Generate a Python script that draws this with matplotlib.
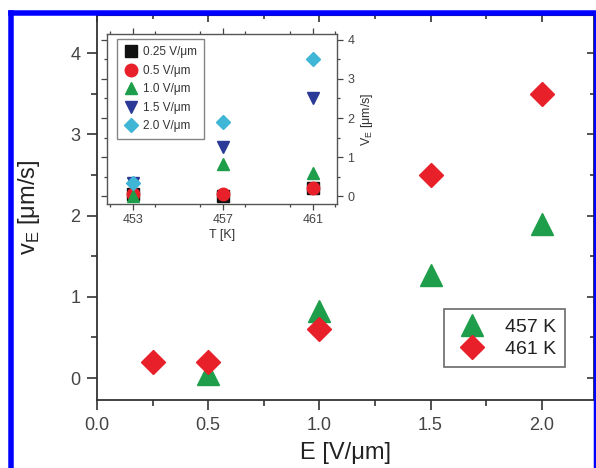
import matplotlib.pyplot as plt
from matplotlib.lines import Line2D
from matplotlib.ticker import MultipleLocator

plt.rcParams['font.family'] = ['Liberation Sans', 'DejaVu Sans']

# main plot: v_E vs E
E_457 = [0.5, 1.0, 1.5, 2.0]
v_457 = [0.05, 0.82, 1.27, 1.9]
E_461 = [0.25, 0.5, 1.0, 1.5, 2.0]
v_461 = [0.2, 0.2, 0.6, 2.5, 3.5]

# inset: v_E vs T for each field
T = [453, 457, 461]
fields = ['0.25 V/\u03bcm', '0.5 V/\u03bcm', '1.0 V/\u03bcm', '1.5 V/\u03bcm', '2.0 V/\u03bcm']
v_T = [
    [0.05, 0.0, 0.2],
    [0.05, 0.05, 0.2],
    [0.0, 0.82, 0.6],
    [0.35, 1.27, 2.5],
    [0.35, 1.9, 3.5],
]
markers = ['s', 'o', '^', 'v', 'D']
colors = ['#111111', '#e8202a', '#1e9e4a', '#2b3a96', '#3fb6d6']

green = '#1e9e4a'
red = '#e8202a'
txt = '#444444'

fig = plt.figure(figsize=(5.96, 4.68), dpi=100)
ax = fig.add_axes([0.1628, 0.1453, 0.8338, 0.8227])

ax.plot(E_457, v_457, '^', color=green, ms=16, mec=green, label='457 K', zorder=3)
ax.plot(E_461, v_461, 'D', color=red, ms=12, mec=red, label='461 K', zorder=3)

ax.set_xlim(0, 2.235)
ax.set_ylim(-0.27, 4.47)
ax.set_xticks([0, 0.5, 1.0, 1.5, 2.0])
ax.set_xticklabels(['0.0', '0.5', '1.0', '1.5', '2.0'])
ax.xaxis.set_minor_locator(MultipleLocator(0.25))
ax.yaxis.set_major_locator(MultipleLocator(1))
ax.yaxis.set_minor_locator(MultipleLocator(0.5))
ax.tick_params(which='both', direction='out', labelsize=13, labelcolor=txt,
               color='#333333', width=1.2, pad=5)
ax.tick_params(which='major', length=7)
ax.tick_params(which='minor', length=4)
# top and right ticks point inwards
sec_top = ax.secondary_xaxis('top')
sec_top.set_xticks([0, 0.5, 1.0, 1.5, 2.0])
sec_top.xaxis.set_minor_locator(MultipleLocator(0.25))
sec_top.tick_params(which='both', direction='in', labeltop=False, color='#333333', width=1.2)
sec_top.tick_params(which='major', length=5)
sec_top.tick_params(which='minor', length=3)
sec_right = ax.secondary_yaxis('right')
sec_right.yaxis.set_major_locator(MultipleLocator(1))
sec_right.yaxis.set_minor_locator(MultipleLocator(0.5))
sec_right.tick_params(which='both', direction='in', labelright=False, color='#333333', width=1.2)
sec_right.tick_params(which='major', length=5)
sec_right.tick_params(which='minor', length=3)
for s in ax.spines.values():
    s.set_color('#333333')
    s.set_linewidth(1.3)
ax.set_xlabel('E [V/\u03bcm]', fontsize=17, color='#222222', labelpad=6)
ax.set_ylabel('v$_\\mathregular{E}$ [\u03bcm/s]', fontsize=17, color='#222222', labelpad=20)

leg = ax.legend(loc='lower right', bbox_to_anchor=(0.9416, 0.086), borderaxespad=0,
                fontsize=14, frameon=True, fancybox=False, edgecolor='#444444',
                handletextpad=0.7, borderpad=0.45, labelspacing=0.25, handlelength=2.0)
leg.get_frame().set_linewidth(1.2)
for t in leg.get_texts():
    t.set_color('#222222')

# inset
ins = fig.add_axes([0.1795, 0.5641, 0.3859, 0.3632])
for i in range(len(fields)):
    ins.plot(T, v_T[i], markers[i], color=colors[i], mec=colors[i],
             ms=9 if markers[i] != 'D' else 7.5, label=fields[i], zorder=3)
ins.set_xlim(451.85, 462.07)
ins.set_ylim(-0.2, 4.15)
ins.set_xticks(T)
ins.xaxis.set_minor_locator(MultipleLocator(2))
ins.yaxis.set_major_locator(MultipleLocator(1))
ins.yaxis.set_minor_locator(MultipleLocator(0.5))
ins.yaxis.tick_right()
ins.yaxis.set_label_position('right')
ins.tick_params(which='both', labelsize=9, labelcolor=txt, color='#444444', width=0.9,
                top=True, left=True, direction='out')
ins.tick_params(which='major', length=4)
ins.tick_params(which='minor', length=2.5)
for s in ins.spines.values():
    s.set_color('#555555')
    s.set_linewidth(1.0)
ins.set_xlabel('T [K]', fontsize=9, color='#333333', labelpad=2)
ins.set_ylabel('V$_\\mathregular{E}$ [\u03bcm/s]', fontsize=9, color='#333333', labelpad=3)
ileg = ins.legend(loc='upper left', bbox_to_anchor=(0.045, 0.97), borderaxespad=0,
                  fontsize=8.5, frameon=True, fancybox=False, edgecolor='#666666',
                  handletextpad=0.4, borderpad=0.6, labelspacing=0.55, handlelength=1.2)
for t in ileg.get_texts():
    t.set_color('#333333')

# blue frame around the figure
W, H = 596.0, 468.0
fig.add_artist(Line2D([10.5 / W, 10.5 / W], [0, 1 - 12.5 / H], color='#0000ff', lw=5.5 * 0.72,
                      transform=fig.transFigure, solid_capstyle='projecting'))
fig.add_artist(Line2D([10.5 / W, 1.0], [1 - 12.5 / H, 1 - 12.5 / H], color='#0000ff', lw=5.5 * 0.72,
                      transform=fig.transFigure, solid_capstyle='projecting'))
fig.add_artist(Line2D([595 / W, 595 / W], [0, 1 - 12.5 / H], color='#0000ff', lw=2.5 * 0.72,
                      transform=fig.transFigure))

fig.savefig('out.png', dpi=100)
